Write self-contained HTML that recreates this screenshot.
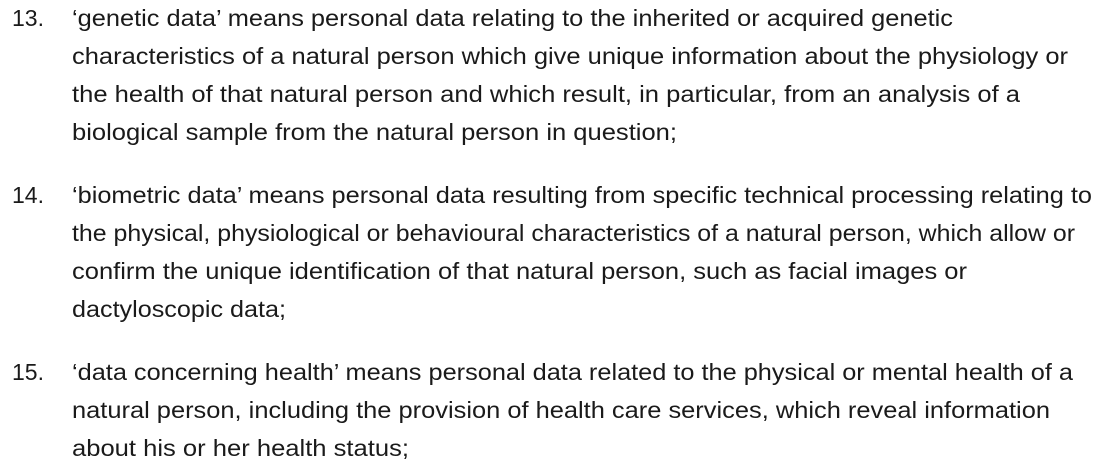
<!DOCTYPE html>
<html><head><meta charset="utf-8">
<style>
html,body{margin:0;padding:0;background:#fff;width:1101px;height:471px;overflow:hidden}
svg{display:block}
text{font-family:"Liberation Sans","DejaVu Sans",sans-serif;font-size:23px;fill:#1a1a1a}
</style></head><body>
<svg width="1101" height="471">
<g>
<text x="12" y="26" textLength="32" lengthAdjust="spacingAndGlyphs">13.</text>
<text x="72" y="26" textLength="881" lengthAdjust="spacingAndGlyphs">‘genetic data’ means personal data relating to the inherited or acquired genetic</text>
<text x="72" y="64" textLength="996" lengthAdjust="spacingAndGlyphs">characteristics of a natural person which give unique information about the physiology or</text>
<text x="72" y="102" textLength="948" lengthAdjust="spacingAndGlyphs">the health of that natural person and which result, in particular, from an analysis of a</text>
<text x="72" y="140" textLength="605" lengthAdjust="spacingAndGlyphs">biological sample from the natural person in question;</text>
</g>
<g>
<text x="12" y="203" textLength="32" lengthAdjust="spacingAndGlyphs">14.</text>
<text x="72" y="203" textLength="1020" lengthAdjust="spacingAndGlyphs">‘biometric data’ means personal data resulting from specific technical processing relating to</text>
<text x="72" y="241" textLength="1003" lengthAdjust="spacingAndGlyphs">the physical, physiological or behavioural characteristics of a natural person, which allow or</text>
<text x="72" y="279" textLength="895" lengthAdjust="spacingAndGlyphs">confirm the unique identification of that natural person, such as facial images or</text>
<text x="72" y="317" textLength="214" lengthAdjust="spacingAndGlyphs">dactyloscopic data;</text>
</g>
<g>
<text x="12" y="380" textLength="32" lengthAdjust="spacingAndGlyphs">15.</text>
<text x="72" y="380" textLength="1001" lengthAdjust="spacingAndGlyphs">‘data concerning health’ means personal data related to the physical or mental health of a</text>
<text x="72" y="418" textLength="978" lengthAdjust="spacingAndGlyphs">natural person, including the provision of health care services, which reveal information</text>
<text x="72" y="456" textLength="337" lengthAdjust="spacingAndGlyphs">about his or her health status;</text>
</g>
</svg>
</body></html>
